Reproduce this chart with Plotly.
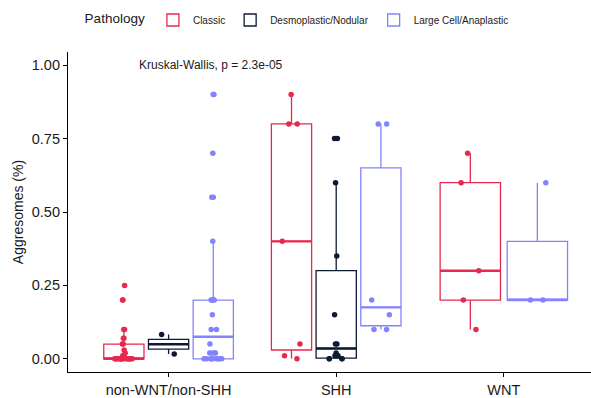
import numpy as np
import plotly.graph_objects as go

groups = ["non-WNT/non-SHH", "SHH", "WNT"]
pathologies = ["Classic", "Desmoplastic/Nodular", "Large Cell/Anaplastic"]
colors = ["#E8294F", "#0E1A35", "#8383FF"]

classic_nonwnt = [0.25, 0.2, 0.2, 0.1, 0.1, 0.07, 0.07, 0.05, 0.05, 0.03, 0.02, 0.01, 0.01,
                  0, 0, 0, 0, 0, 0, 0, 0, 0, 0, 0, 0, 0, 0, 0, 0, 0, 0]
desmo_nonwnt = [0.083, 0.016]
lca_nonwnt = [0.9, 0.9, 0.7, 0.55, 0.55, 0.4, 0.2, 0.2, 0.2, 0.2, 0.2, 0.15, 0.1, 0.1, 0.05,
              0.02, 0.02, 0.02, 0.02, 0, 0, 0, 0, 0, 0, 0, 0, 0]
classic_shh = [0.9, 0.8, 0.8, 0.4, 0.05, 0.01, 0.0]
desmo_shh = [0.75, 0.75, 0.6, 0.35, 0.15, 0.05, 0.05, 0.02, 0.01, 0.01, 0, 0, 0, 0]
lca_shh = [0.8, 0.8, 0.2, 0.15, 0.1, 0.1]
classic_wnt = [0.7, 0.6, 0.3, 0.2, 0.1]
lca_wnt = [0.6, 0.2, 0.2]

y_ticks = [0, 0.25, 0.5, 0.75, 1.0]
test_label = "Kruskal-Wallis, p = 2.3e-05"

data = {
    "non-WNT/non-SHH": {"Classic": classic_nonwnt, "Desmoplastic/Nodular": desmo_nonwnt,
                        "Large Cell/Anaplastic": lca_nonwnt},
    "SHH": {"Classic": classic_shh, "Desmoplastic/Nodular": desmo_shh,
            "Large Cell/Anaplastic": lca_shh},
    "WNT": {"Classic": classic_wnt, "Large Cell/Anaplastic": lca_wnt},
}


def box_stats(v):
    a = np.sort(np.asarray(v, float))
    q1, med, q3 = np.percentile(a, [25, 50, 75])
    iqr = q3 - q1
    lo = a[a >= q1 - 1.5 * iqr].min()
    hi = a[a <= q3 + 1.5 * iqr].max()
    return q1, med, q3, lo, hi


FONT = "Liberation Sans, Arial, Helvetica, sans-serif"
fig = go.Figure()
total = 0.8
jitter_width = 0.13  # in x data units, constant like ggplot jitter
shown = set()
point_traces = []
median_traces = []
for gi, g in enumerate(groups):
    present = [p for p in pathologies if p in data[g]]
    k = len(present)
    slot = total / k
    for i, p in enumerate(present):
        col = colors[pathologies.index(p)]
        pos = gi + 1 + (i - (k - 1) / 2) * slot
        w = slot * 0.9
        vals = data[g][p]
        q1, med, q3, lo, hi = box_stats(vals)
        fig.add_trace(go.Box(
            x=[pos], q1=[q1], median=[med], q3=[q3], lowerfence=[lo], upperfence=[hi],
            width=w, whiskerwidth=0, boxpoints=False,
            line=dict(color=col, width=1.3), fillcolor="rgba(255,255,255,0)",
            name=p, legendgroup=p, showlegend=p not in shown, hoverinfo="skip"))
        shown.add(p)
        median_traces.append(go.Scatter(
            x=[pos - w / 2, pos + w / 2], y=[med, med], mode="lines",
            line=dict(color=col, width=2.4), showlegend=False, hoverinfo="skip"))
        point_traces.append(go.Box(
            x=[pos] * len(vals), y=vals, width=w, boxpoints="all",
            jitter=min(1.0, jitter_width / w), pointpos=0,
            line=dict(color="rgba(0,0,0,0)", width=0), fillcolor="rgba(0,0,0,0)",
            marker=dict(color=col, size=5.5), showlegend=False, hoverinfo="skip",
            whiskerwidth=0))

for t in median_traces:
    fig.add_trace(t)
for t in point_traces:
    fig.add_trace(t)

fig.add_annotation(x=0.81, y=1.0, xref="x", yref="y", text=test_label, showarrow=False,
                   xanchor="left", yanchor="middle", font=dict(size=12, color="#1a1a1a", family=FONT))

fig.update_layout(
    width=591, height=398,
    margin=dict(l=68, r=0, t=52, b=19),
    paper_bgcolor="white", plot_bgcolor="white",
    font=dict(family=FONT, color="#1a1a1a"),
    boxmode="overlay",
    legend=dict(orientation="h", x=0.44, xanchor="center", y=1.1, yanchor="middle",
                title=dict(text="Pathology", font=dict(size=13.5), side="left"),
                font=dict(size=10), itemwidth=30, traceorder="normal"),
)
fig.update_xaxes(range=[0.4, 3.52], tickvals=[1, 2, 3], ticktext=groups, showgrid=False,
                 zeroline=False, showline=True, linecolor="black", linewidth=1.2,
                 ticks="outside", ticklen=4, tickcolor="black", tickwidth=1,
                 tickfont=dict(size=14.5, color="#1a1a1a"))
fig.update_yaxes(range=[-0.045, 1.045], tickvals=y_ticks, tickformat=".2f", showgrid=False,
                 zeroline=False, showline=True, linecolor="black", linewidth=1.2,
                 ticks="outside", ticklen=4, tickcolor="black", tickwidth=1,
                 tickfont=dict(size=14.5, color="#1a1a1a"),
                 title=dict(text="Aggresomes (%)", font=dict(size=14), standoff=4))

fig.write_html("out.html")
